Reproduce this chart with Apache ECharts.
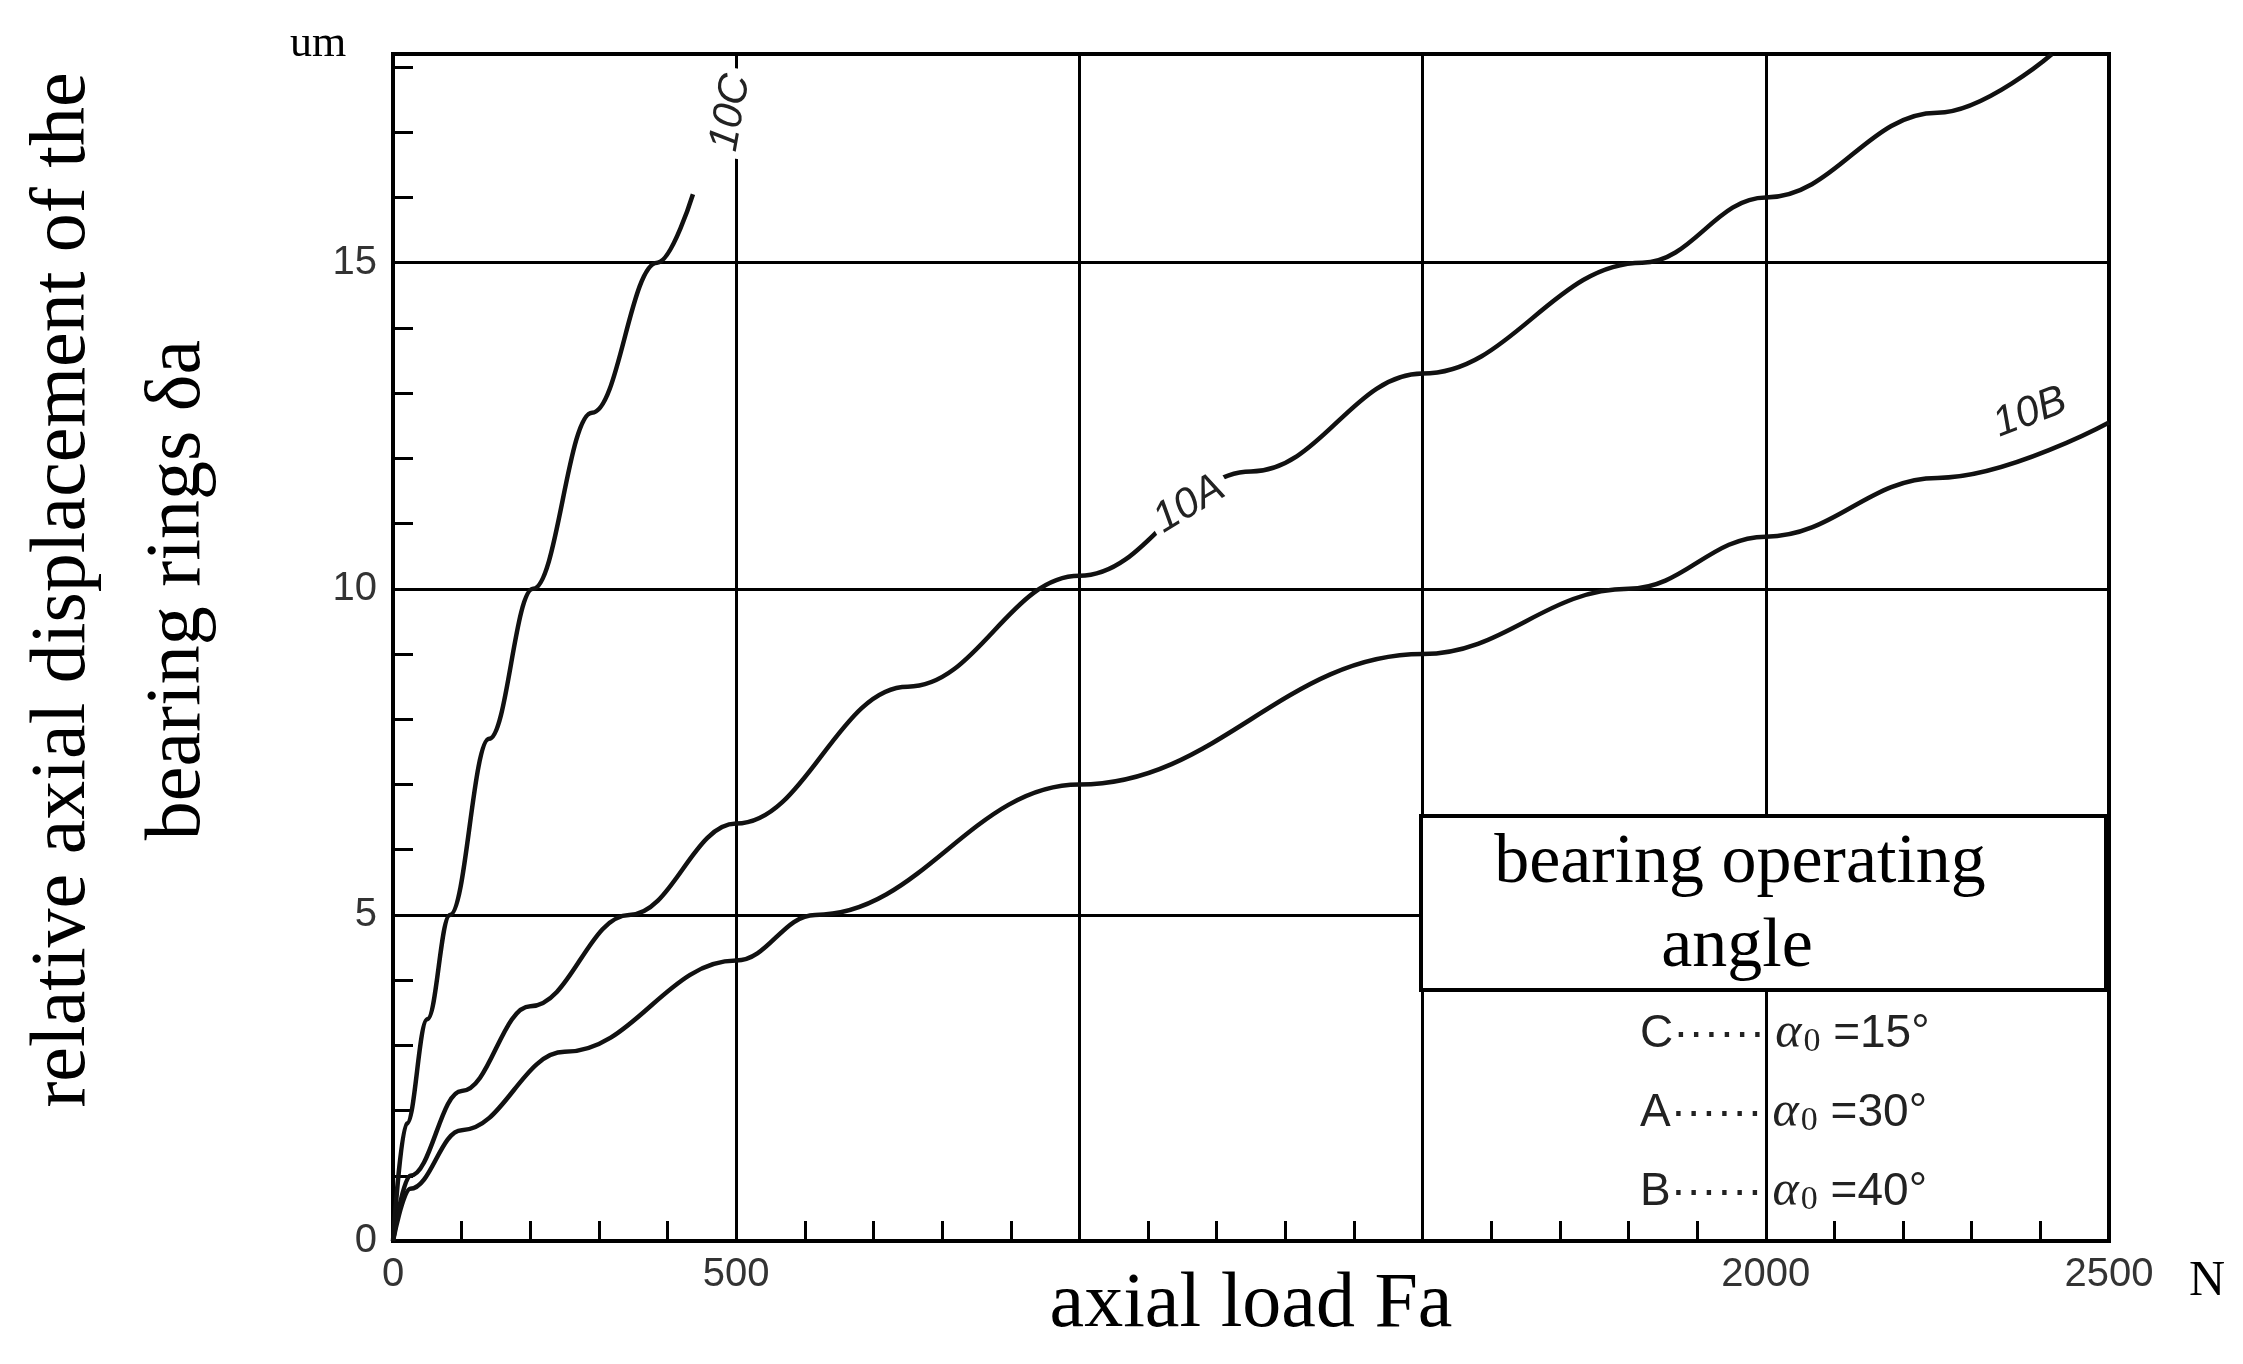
<!DOCTYPE html>
<html><head><meta charset="utf-8">
<script src="https://cdn.jsdelivr.net/npm/echarts@6/dist/echarts.min.js"></script>
<style>html,body{margin:0;background:#fff}#c{width:2243px;height:1364px}</style>
</head><body><div id="c"></div>
<script>
// axial load Fa (N), displacement (um)
var curveC = [[0,0],[20,1.8],[50,3.4],[83,5],[140,7.7],[204,10],[290,12.7],[385,15],[437,16.05]];
var curveA = [[0,0],[25,1],[100,2.3],[200,3.6],[344,5],[500,6.4],[750,8.5],[1000,10.2],[1250,11.8],[1500,13.3],[1820,15],[2000,16.0],[2250,17.3],[2417,18.2]];
var curveB = [[0,0],[25,0.8],[100,1.7],[250,2.9],[500,4.3],[615,5],[1000,7.0],[1500,9.0],[1800,10],[2000,10.8],[2250,11.7],[2500,12.55]];
var curveLabels = [['10C', 492, 17.3, 80], ['10A', 1160, 11.3, 31], ['10B', 2385, 12.7, 21]];
var xShown = [0, 500, 2000, 2500];
var yShown = [0, 5, 10, 15];
var legendRows = [['C', '15'], ['A', '30'], ['B', '40']];

var chart = echarts.init(document.getElementById('c'));
var serif = 'Liberation Serif';
var lineSeries = function (d) {
    return { type: 'line', data: d, smooth: 0.4, smoothMonotone: 'x', symbol: 'none', lineStyle: { color: '#111', width: 4.5 }, z: 3 };
};
chart.setOption({
    backgroundColor: '#fff',
    animation: false,
    grid: { left: 393, right: 134, top: 54, bottom: 123, show: true, borderColor: '#000', borderWidth: 4 },
    xAxis: {
        type: 'value', min: 0, max: 2500, interval: 500,
        axisLine: { lineStyle: { color: '#000', width: 4 } },
        axisTick: { inside: true, length: 20, lineStyle: { color: '#000', width: 3 } },
        minorTick: { show: true, splitNumber: 5, length: 20, lineStyle: { color: '#000', width: 3 } },
        splitLine: { show: true, lineStyle: { color: '#000', width: 3 } },
        axisLabel: {
            color: '#333', fontSize: 40, fontFamily: 'Liberation Sans Narrow, Liberation Sans', margin: 14,
            formatter: function (v) { return xShown.indexOf(v) >= 0 ? String(v) : ''; }
        }
    },
    yAxis: {
        type: 'value', min: 0, max: 18.2, interval: 5,
        axisLine: { lineStyle: { color: '#000', width: 4 } },
        axisTick: { inside: true, length: 20, lineStyle: { color: '#000', width: 3 } },
        minorTick: { show: true, splitNumber: 5, length: 20, lineStyle: { color: '#000', width: 3 } },
        splitLine: { show: true, lineStyle: { color: '#000', width: 3 } },
        axisLabel: {
            color: '#333', fontSize: 40, fontFamily: 'Liberation Sans Narrow, Liberation Sans', margin: 16,
            formatter: function (v) { return yShown.indexOf(v) >= 0 ? String(v) : ''; }
        }
    },
    series: [lineSeries(curveC), lineSeries(curveA), lineSeries(curveB)]
});

var g = [
    { type: 'text', x: 64, y: 590, rotation: Math.PI / 2,
      style: { text: 'relative axial displacement of the', font: '78px ' + serif, fill: '#000', align: 'center', verticalAlign: 'middle' } },
    { type: 'text', x: 179, y: 590, rotation: Math.PI / 2,
      style: { text: 'bearing rings \u03b4a', font: '78px ' + serif, fill: '#000', align: 'center', verticalAlign: 'middle' } },
    { type: 'text', x: 1251, y: 1306, style: { text: 'axial load Fa', font: '78px ' + serif, fill: '#000', align: 'center', verticalAlign: 'middle' } },
    { type: 'text', x: 318, y: 44, style: { text: 'um', font: '44px ' + serif, fill: '#000', align: 'center', verticalAlign: 'middle' } },
    { type: 'text', x: 2207, y: 1282, style: { text: 'N', font: '50px ' + serif, fill: '#000', align: 'center', verticalAlign: 'middle' } },
    { type: 'rect', shape: { x: 1421, y: 816, width: 685, height: 174 }, style: { fill: '#fff', stroke: '#000', lineWidth: 4 }, z: 10 },
    { type: 'text', x: 1740, y: 864, z: 11, style: { text: 'bearing operating', font: '70px ' + serif, fill: '#000', align: 'center', verticalAlign: 'middle' } },
    { type: 'text', x: 1737, y: 948, z: 11, style: { text: 'angle', font: '70px ' + serif, fill: '#000', align: 'center', verticalAlign: 'middle' } }
];
legendRows.forEach(function (r, i) {
    g.push({ type: 'text', x: 1640, y: 1034 + i * 79, z: 11,
        style: {
            text: '{n|' + r[0] + '\u00b7\u00b7\u00b7\u00b7\u00b7\u00b7}   {a|\u03b1}{s|0}{n| =' + r[1] + '\u00b0}',
            align: 'left', verticalAlign: 'middle',
            rich: {
                n: { font: '46px Liberation Sans Narrow, Liberation Sans', fill: '#222' },
                a: { font: 'italic 50px ' + serif, fill: '#222' },
                s: { font: '34px ' + serif, fill: '#222', verticalAlign: 'bottom', padding: [14, 0, 0, 2] }
            }
        } });
});
curveLabels.forEach(function (l) {
    var p = chart.convertToPixel({ gridIndex: 0 }, [l[1], l[2]]);
    g.push({ type: 'text', x: p[0], y: p[1], rotation: l[3] * Math.PI / 180, z: 12,
        style: { text: l[0], font: 'italic 42px Liberation Sans', fill: '#222', align: 'center', verticalAlign: 'middle',
                 backgroundColor: '#fff', padding: [2, 6] } });
});
chart.setOption({ graphic: g });
</script>
</body></html>
